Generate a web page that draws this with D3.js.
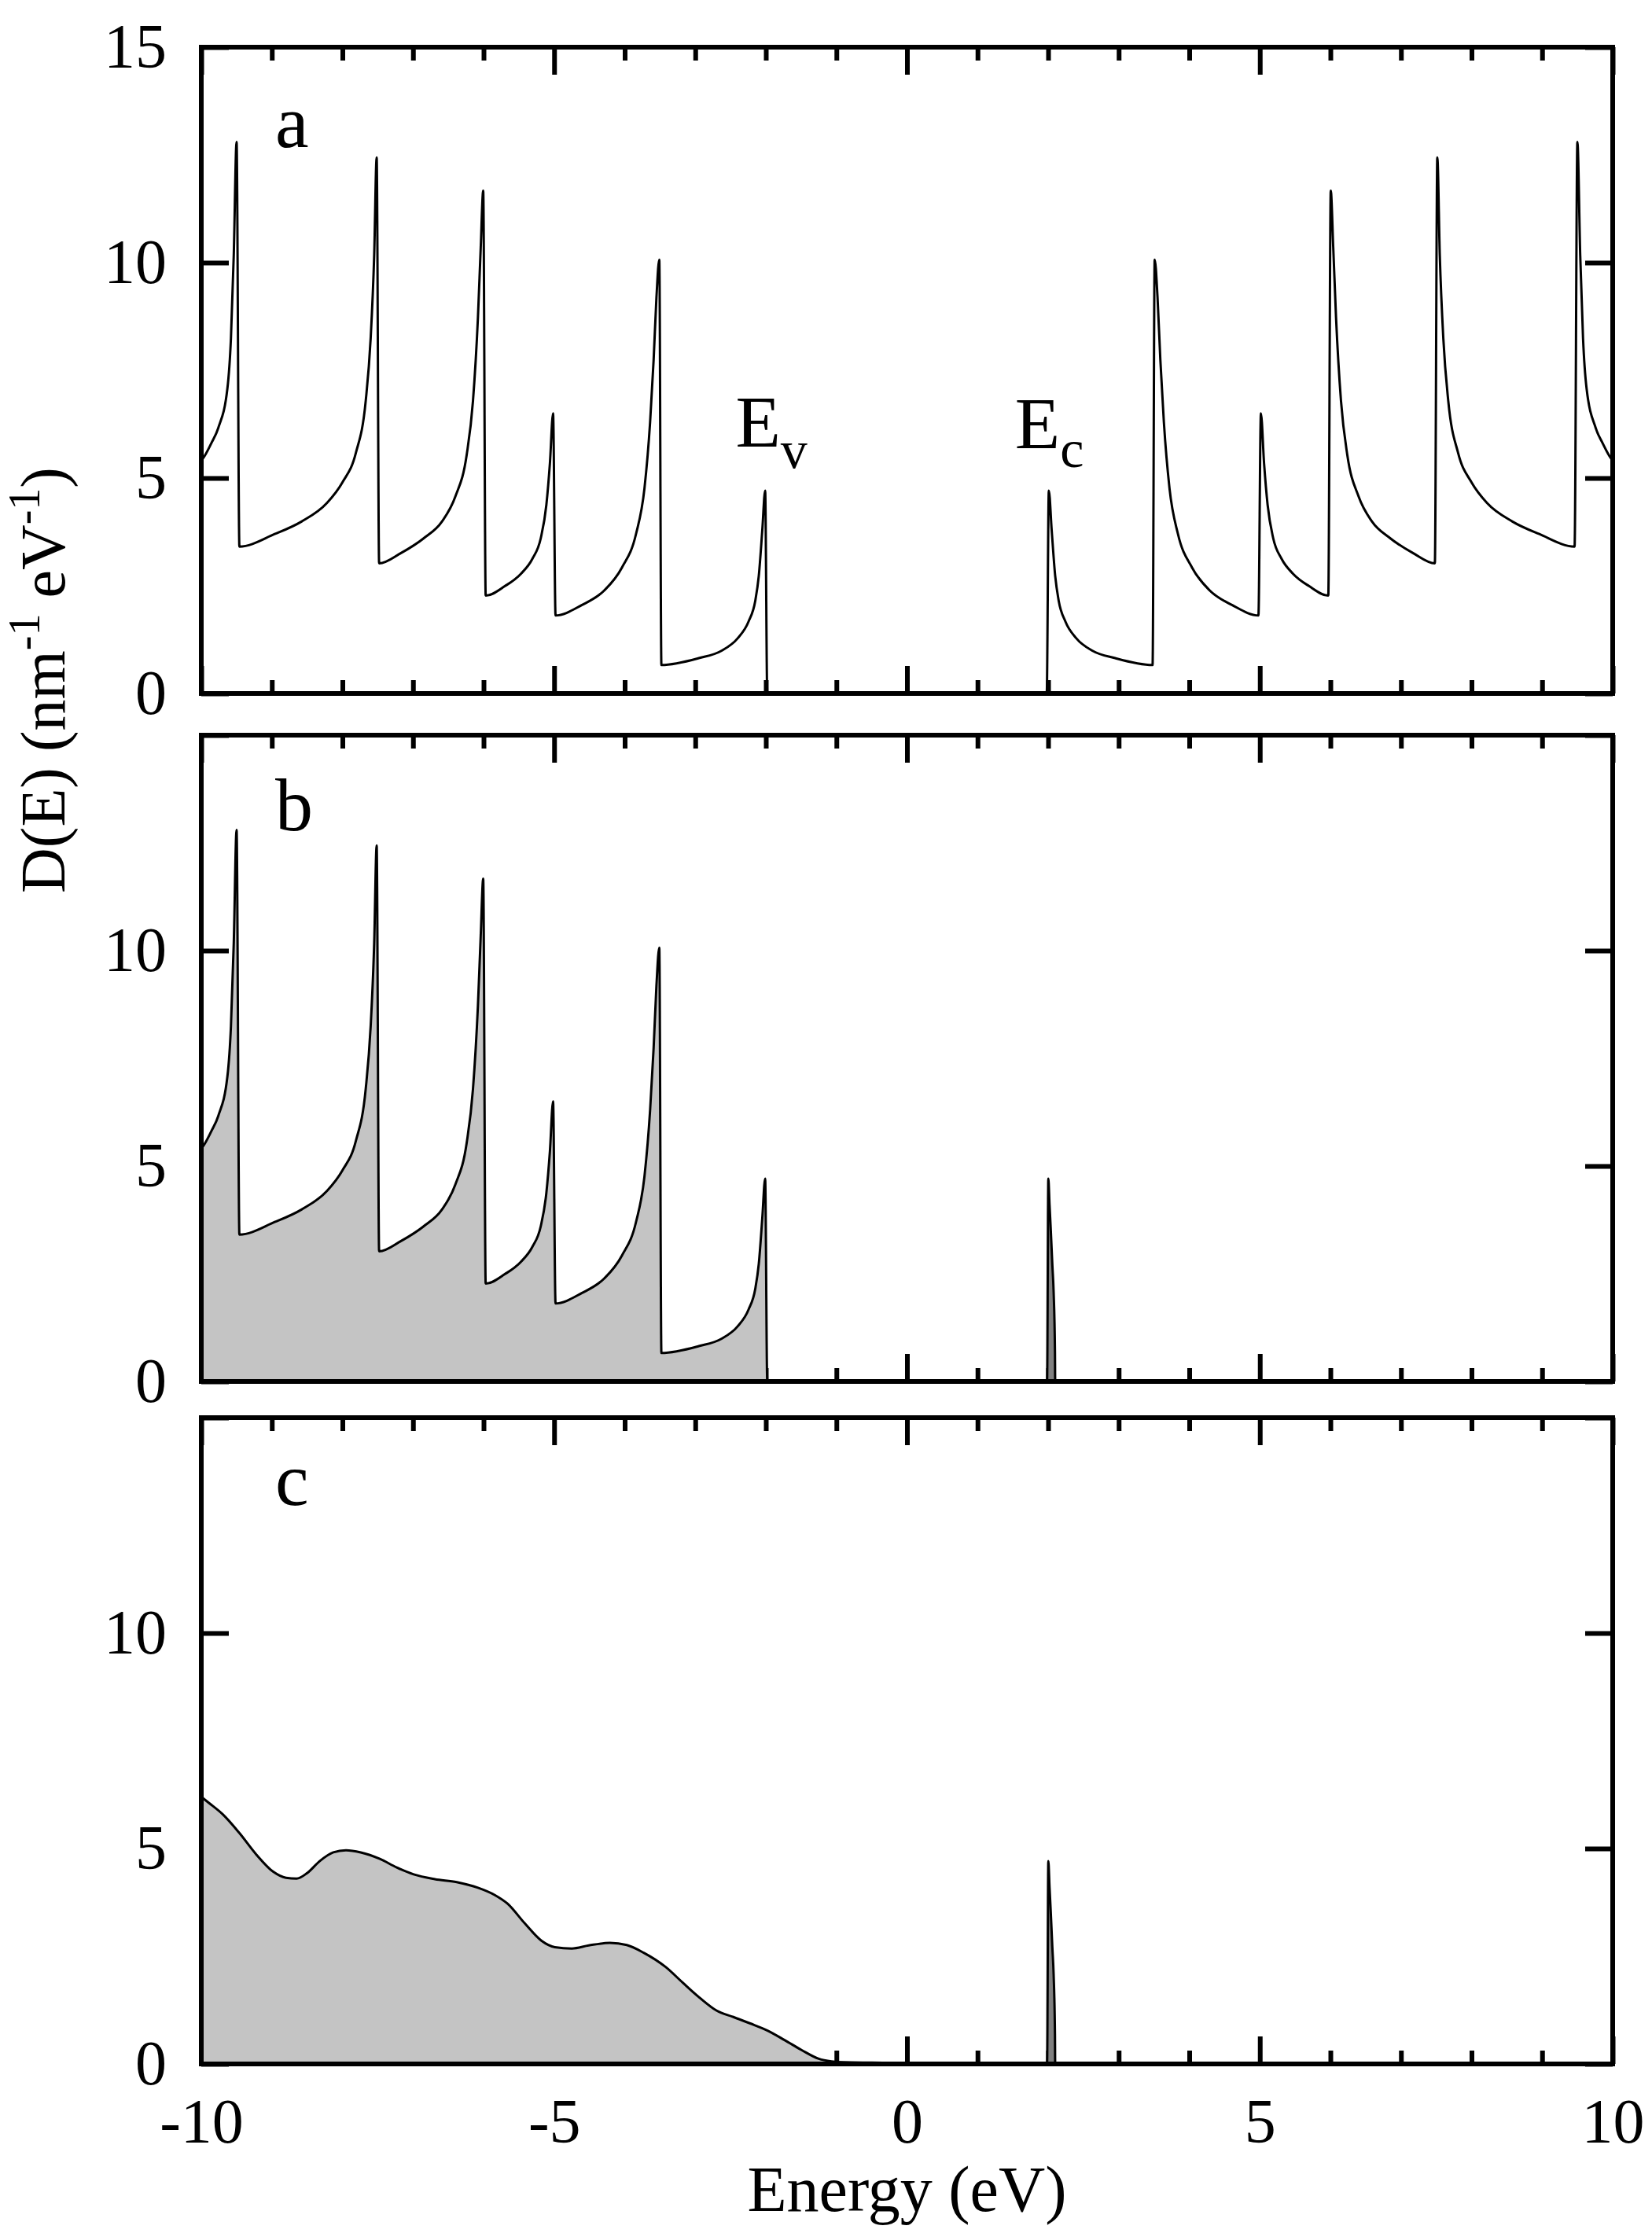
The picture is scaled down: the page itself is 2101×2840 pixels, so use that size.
<!DOCTYPE html>
<html>
<head>
<meta charset="utf-8">
<script src="https://cdn.jsdelivr.net/npm/d3@7"></script>
<style>
  body { margin: 0; background: #fff; }
  text { font-family: "Liberation Serif", "Times New Roman", Times, serif; fill: #000; }
</style>
</head>
<body>
<svg id="chart"></svg>
<script>
const width = 2101;
const height = 2840;
const plotLeft = 256;
const plotRight = 2051;
const panelHeight = 822;
const panelTops = [60, 935, 1803];

// panel letters and tick values
const panelNames = ["a", "b", "c"];
const xTickValues = [-10, -9, -8, -7, -6, -5, -4, -3, -2, -1, 0, 1, 2, 3, 4, 5, 6, 7, 8, 9, 10];
const xLabelValues = [-10, -5, 0, 5, 10];
const yTickValues = [0, 5, 10, 15];
const yLabelValues = [[0, 5, 10, 15], [0, 5, 10], [0, 5, 10]];

// [E (eV), D(E)]
const valence = [
    [-10.0, 5.40], [-9.95, 5.52], [-9.86, 5.80], [-9.76, 6.16], [-9.63, 7.08], [-9.58, 8.24],
    [-9.54, 10.17], [-9.50, 12.80],
    [-9.46, 3.41], [-8.96, 3.70], [-8.58, 3.99], [-8.22, 4.42], [-8.00, 4.90], [-7.81, 5.58],
    [-7.67, 6.79], [-7.60, 8.24], [-7.55, 10.17], [-7.515, 12.44],
    [-7.48, 3.02], [-7.17, 3.26], [-6.85, 3.60], [-6.59, 3.99], [-6.40, 4.57], [-6.24, 5.53],
    [-6.15, 6.79], [-6.08, 8.72], [-6.04, 10.36], [-6.005, 11.67],
    [-5.97, 2.27], [-5.70, 2.49], [-5.47, 2.78], [-5.31, 3.12], [-5.19, 3.60], [-5.11, 4.38],
    [-5.06, 5.34], [-5.015, 6.50],
    [-4.98, 1.81], [-4.61, 2.05], [-4.29, 2.39], [-4.04, 2.92], [-3.84, 3.70], [-3.72, 4.76],
    [-3.64, 6.30], [-3.59, 7.75], [-3.55, 9.20], [-3.51, 10.07],
    [-3.48, 0.66], [-2.95, 0.82], [-2.63, 0.99], [-2.40, 1.28], [-2.245, 1.67], [-2.15, 2.15],
    [-2.10, 2.73], [-2.05, 3.80], [-2.01, 4.71],
    [-1.98, 0]
];

const conduction = [
    [1.98, 0],
    [2.01, 4.71], [2.05, 3.80], [2.10, 2.73], [2.15, 2.15], [2.245, 1.67], [2.40, 1.28],
    [2.63, 0.99], [2.95, 0.82], [3.48, 0.66],
    [3.51, 10.07], [3.55, 9.20], [3.59, 7.75], [3.64, 6.30], [3.72, 4.76], [3.84, 3.70],
    [4.04, 2.92], [4.29, 2.39], [4.61, 2.05], [4.98, 1.81],
    [5.015, 6.50], [5.06, 5.34], [5.11, 4.38], [5.19, 3.60], [5.31, 3.12], [5.47, 2.78],
    [5.70, 2.49], [5.97, 2.27],
    [6.005, 11.67], [6.04, 10.36], [6.08, 8.72], [6.15, 6.79], [6.24, 5.53], [6.40, 4.57],
    [6.59, 3.99], [6.85, 3.60], [7.17, 3.26], [7.48, 3.02],
    [7.515, 12.44], [7.55, 10.17], [7.60, 8.24], [7.67, 6.79], [7.81, 5.58], [8.00, 4.90],
    [8.22, 4.42], [8.58, 3.99], [8.96, 3.70], [9.46, 3.41],
    [9.50, 12.80], [9.54, 10.17], [9.58, 8.24], [9.63, 7.08], [9.76, 6.16], [9.86, 5.80],
    [9.95, 5.52], [10.0, 5.40]
];

// filled electrons at the conduction band edge (panels b, c)
const occupiedCb = [
    [1.985, 0], [2.003, 4.71], [2.02, 4.10], [2.037, 3.54], [2.06, 2.70], [2.078, 2.08],
    [2.097, 0.67], [2.10, 0]
];

// broadened valence DOS (panel c)
const smeared = [
    [-10.0, 6.20], [-9.885, 6.05], [-9.70, 5.80], [-9.46, 5.36], [-9.22, 4.86], [-8.98, 4.46],
    [-8.80, 4.32], [-8.65, 4.30], [-8.50, 4.43], [-8.32, 4.71], [-8.13, 4.91], [-7.95, 4.96],
    [-7.74, 4.91], [-7.47, 4.76], [-7.23, 4.56], [-6.99, 4.40], [-6.69, 4.29], [-6.38, 4.22],
    [-6.08, 4.09], [-5.84, 3.92], [-5.66, 3.72], [-5.42, 3.27], [-5.18, 2.86], [-4.99, 2.71],
    [-4.75, 2.68], [-4.51, 2.75], [-4.21, 2.81], [-3.97, 2.76], [-3.73, 2.58], [-3.42, 2.25],
    [-3.18, 1.89], [-2.94, 1.54], [-2.70, 1.24], [-2.46, 1.09], [-2.22, 0.94], [-1.97, 0.77],
    [-1.73, 0.55], [-1.49, 0.32], [-1.25, 0.12], [-1.07, 0.06], [-0.90, 0.04], [-0.50, 0.03],
    [-0.05, 0.02], [0.0, 0]
];

const bandTop = [[10.0, 0]];

const lightGray = "#c4c4c4";
const midGray = "#808080";

const svg = d3.select("#chart").attr("width", width).attr("height", height);

const x = d3.scaleLinear().domain([-10, 10]).range([plotLeft, plotRight]);

const panels = [
    { line: valence.concat(conduction), fills: [] },
    { line: valence.concat(occupiedCb, bandTop), fills: [[valence, lightGray], [occupiedCb, midGray]] },
    { line: smeared.concat(occupiedCb, bandTop), fills: [[smeared, lightGray], [occupiedCb, midGray]] }
];
const letterBaselines = [187, 1056, 1914];

// plain hyphen for negatives, as in the original
const fmt = (d) => String(d);

panels.forEach((p, i) => {
    const top = panelTops[i];
    const bottom = top + panelHeight;
    const y = d3.scaleLinear().domain([0, 15]).range([bottom, top]);
    const g = svg.append("g");

    // inward ticks on all four sides
    const tickStyle = (sel, isMajor, horiz) => {
        sel.select(".domain").remove();
        sel.selectAll(".tick line")
            .attr("stroke", "#000")
            .attr("stroke-width", 6)
            .each(function (d) {
                const len = isMajor(d) ? 35 : 17;
                const l = d3.select(this);
                if (horiz) l.attr("y2", +l.attr("y2") < 0 ? -len : len);
                else l.attr("x2", +l.attr("x2") < 0 ? -len : len);
            });
    };
    const majorX = (d) => d % 5 === 0;

    g.append("g").attr("transform", `translate(0,${bottom})`)
        .call(d3.axisTop(x).tickValues(xTickValues).tickFormat("").tickSize(17))
        .call((s) => tickStyle(s, majorX, true));
    g.append("g").attr("transform", `translate(0,${top})`)
        .call(d3.axisBottom(x).tickValues(xTickValues).tickFormat("").tickSize(17))
        .call((s) => tickStyle(s, majorX, true));
    g.append("g").attr("transform", `translate(${plotLeft},0)`)
        .call(d3.axisRight(y).tickValues(yTickValues).tickFormat("").tickSize(35))
        .call((s) => tickStyle(s, () => true, false));
    g.append("g").attr("transform", `translate(${plotRight},0)`)
        .call(d3.axisLeft(y).tickValues(yTickValues).tickFormat("").tickSize(35))
        .call((s) => tickStyle(s, () => true, false));

    // y tick labels
    g.append("g").attr("transform", `translate(${plotLeft},0)`)
        .call(d3.axisLeft(y).tickValues(yLabelValues[i]).tickFormat(fmt).tickSize(0).tickPadding(44))
        .call((s) => {
            s.select(".domain").remove();
            s.selectAll("text").attr("font-size", 80).attr("fill", "#000");
        })
        .attr("font-family", null);

    const area = d3.area().x((d) => x(d[0])).y0(bottom).y1((d) => y(d[1])).curve(d3.curveMonotoneX);
    const line = d3.line().x((d) => x(d[0])).y((d) => y(d[1])).curve(d3.curveMonotoneX);

    p.fills.forEach(([pts, color]) => {
        g.append("path").attr("d", area(pts)).attr("fill", color).attr("stroke", "none");
    });

    g.append("path")
        .attr("d", line(p.line))
        .attr("fill", "none")
        .attr("stroke", "#000")
        .attr("stroke-width", 3)
        .attr("stroke-linejoin", "round");

    g.append("rect")
        .attr("x", plotLeft).attr("y", top)
        .attr("width", plotRight - plotLeft).attr("height", panelHeight)
        .attr("fill", "none").attr("stroke", "#000").attr("stroke-width", 6);

    g.append("text")
        .attr("x", 350).attr("y", letterBaselines[i])
        .attr("font-size", 96)
        .text(panelNames[i]);

    if (i === 0) {
        const ev = g.append("text").attr("x", x(-2.43)).attr("y", y(5.73)).attr("font-size", 94);
        ev.append("tspan").text("E");
        ev.append("tspan").attr("font-size", 68).attr("dy", 27).text("v");
        const ec = g.append("text").attr("x", x(1.53)).attr("y", y(5.70)).attr("font-size", 94);
        ec.append("tspan").text("E");
        ec.append("tspan").attr("font-size", 68).attr("dy", 24).text("c");
    }

    if (i === 2) {
        g.append("g").attr("transform", `translate(0,${bottom})`)
            .call(d3.axisBottom(x).tickValues(xLabelValues).tickFormat(fmt).tickSize(0).tickPadding(43))
            .call((s) => {
                s.select(".domain").remove();
                s.selectAll("text").attr("font-size", 80).attr("fill", "#000");
            })
            .attr("font-family", null);
    }
});

svg.append("text")
    .attr("x", x(0)).attr("y", 2812)
    .attr("text-anchor", "middle")
    .attr("font-size", 82)
    .text("Energy (eV)");

const yLabel = svg.append("text")
    .attr("transform", "translate(82,865) rotate(-90)")
    .attr("text-anchor", "middle")
    .attr("font-size", 80);
yLabel.append("tspan").text("D(E) (nm");
yLabel.append("tspan").attr("font-size", 56).attr("dy", -32).text("-1");
yLabel.append("tspan").attr("dy", 32).text(" eV");
yLabel.append("tspan").attr("font-size", 56).attr("dy", -32).text("-1");
yLabel.append("tspan").attr("dy", 32).text(")");
</script>
</body>
</html>
